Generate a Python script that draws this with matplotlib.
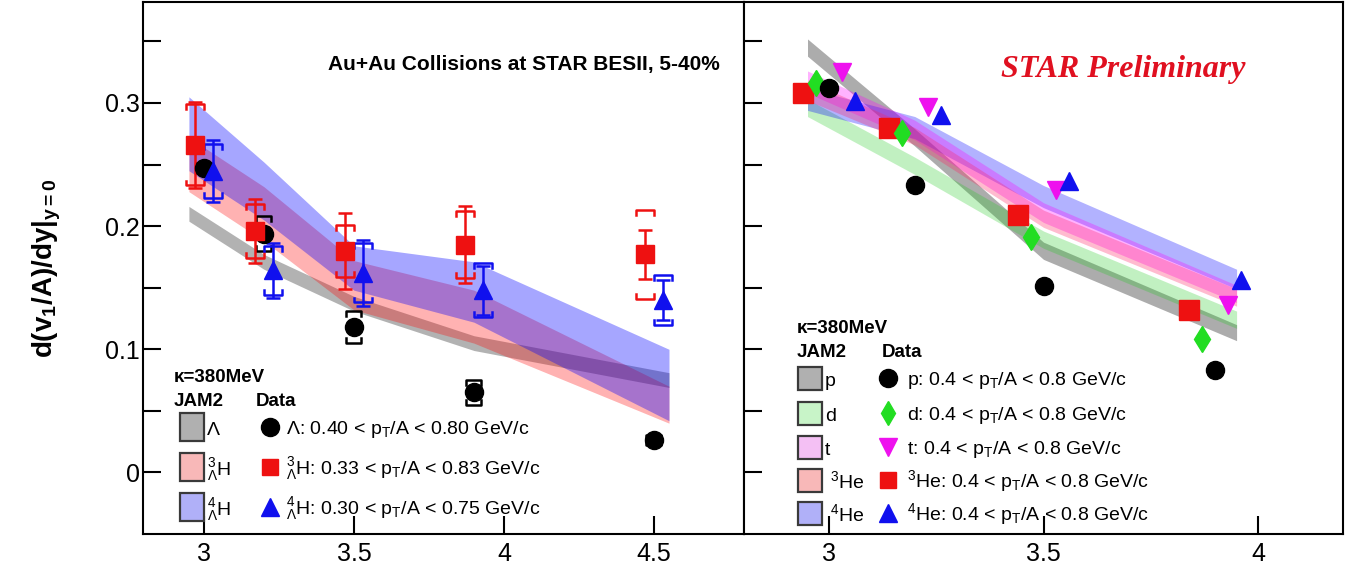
import numpy as np
import matplotlib.pyplot as plt
from matplotlib.patches import Rectangle

plt.rcParams['font.family'] = ['Liberation Sans', 'DejaVu Sans']
plt.rcParams['mathtext.fontset'] = 'custom'
plt.rcParams['mathtext.rm'] = 'Liberation Sans'
plt.rcParams['mathtext.it'] = 'Liberation Sans:italic'
plt.rcParams['mathtext.bf'] = 'Liberation Sans:bold'

W, H = 1358, 570

# ——— left panel: Lambda and hypernuclei ———
snn_l = [3.0, 3.2, 3.5, 3.9, 4.5]

lam_y    = [0.247, 0.194, 0.118, 0.065, 0.026]
lam_stat = [0.003, 0.004, 0.004, 0.004, 0.002]
lam_sys  = [0.004, 0.014, 0.013, 0.010, 0.004]

h3_y    = [0.266, 0.196, 0.180, 0.185, 0.177]
h3_stat = [0.035, 0.026, 0.031, 0.031, 0.020]
h3_sys  = [0.033, 0.022, 0.021, 0.027, 0.036]

h4_y    = [0.245, 0.164, 0.162, 0.148, 0.140]
h4_stat = [0.025, 0.022, 0.027, 0.020, 0.016]
h4_sys  = [0.022, 0.020, 0.024, 0.022, 0.020]

# JAM2 bands (kappa = 380 MeV)
jam_x_l    = [2.95, 3.2, 3.5, 3.9, 4.55]
jam_lam_lo = [0.204, 0.165, 0.131, 0.099, 0.069]
jam_lam_hi = [0.216, 0.177, 0.143, 0.111, 0.081]
jam_h3_lo  = [0.228, 0.188, 0.132, 0.105, 0.040]
jam_h3_hi  = [0.272, 0.232, 0.172, 0.148, 0.070]
jam_h4_lo  = [0.245, 0.205, 0.148, 0.122, 0.042]
jam_h4_hi  = [0.305, 0.252, 0.184, 0.171, 0.100]

# ——— right panel: light nuclei ———
snn_r = [3.0, 3.2, 3.5, 3.9]
p_y   = [0.312, 0.233, 0.151, 0.083]
d_y   = [0.316, 0.276, 0.191, 0.108]
t_y   = [0.325, 0.297, 0.229, 0.136]
he3_y = [0.308, 0.280, 0.209, 0.132]
he4_y = [0.302, 0.290, 0.237, 0.156]

jam_x_r    = [2.95, 3.2, 3.5, 3.95]
jam_p_lo   = [0.338, 0.265, 0.173, 0.107]
jam_p_hi   = [0.352, 0.279, 0.187, 0.120]
jam_d_lo   = [0.289, 0.242, 0.182, 0.117]
jam_d_hi   = [0.303, 0.256, 0.196, 0.131]
jam_t_lo   = [0.308, 0.270, 0.203, 0.138]
jam_t_hi   = [0.326, 0.286, 0.219, 0.152]
jam_he3_lo = [0.302, 0.266, 0.199, 0.135]
jam_he3_hi = [0.318, 0.280, 0.213, 0.149]
jam_he4_lo = [0.294, 0.271, 0.215, 0.149]
jam_he4_hi = [0.312, 0.289, 0.233, 0.165]

RED, BLUE, GREEN, MAG = '#ee1111', '#1010ee', '#22dd22', '#ee11ee'


def shift(xs, dx):
    return [x + dx for x in xs]


def brackets(ax, xs, ys, errs, color, half=0.03, tip=0.004):
    # systematic uncertainty drawn as ROOT-style brackets
    for x, y, e in zip(xs, ys, errs):
        hi, lo = y + e, y - e
        ax.plot([x - half, x - half, x + half, x + half], [hi - tip, hi, hi, hi - tip],
                color=color, lw=1.8, zorder=4)
        ax.plot([x - half, x - half, x + half, x + half], [lo + tip, lo, lo, lo + tip],
                color=color, lw=1.8, zorder=4)


def fig_xy(px, py):
    return px / W, 1 - py / H


fig = plt.figure(figsize=(W / 100, H / 100), dpi=100)
axl = fig.add_axes([142.7 / W, 36 / H, 601.3 / W, 532 / H])
axr = fig.add_axes([744 / W, 36 / H, 599 / W, 532 / H])

# ---- left panel ----
axl.fill_between(jam_x_l, jam_lam_lo, jam_lam_hi, color='#808080', alpha=0.6, lw=0, zorder=1)
axl.fill_between(jam_x_l, jam_h3_lo, jam_h3_hi, color='#ff0000', alpha=0.3, lw=0, zorder=1)
axl.fill_between(jam_x_l, jam_h4_lo, jam_h4_hi, color='#0000ff', alpha=0.35, lw=0, zorder=1)

x_h3 = shift(snn_l, -0.03)
x_h4 = shift(snn_l, 0.03)
axl.errorbar(snn_l, lam_y, yerr=lam_stat, fmt='o', color='black', ms=13, lw=1.8,
             capsize=4, capthick=1.8, zorder=5)
brackets(axl, snn_l, lam_y, lam_sys, 'black', half=0.025)
axl.errorbar(x_h3, h3_y, yerr=h3_stat, fmt='s', color=RED, ms=13, lw=1.8,
             capsize=5, capthick=1.8, zorder=5)
brackets(axl, x_h3, h3_y, h3_sys, RED)
axl.errorbar(x_h4, h4_y, yerr=h4_stat, fmt='^', color=BLUE, ms=13, lw=1.8,
             capsize=5, capthick=1.8, zorder=5)
brackets(axl, x_h4, h4_y, h4_sys, BLUE)

axl.set_xlim(2.796, 4.8)
axl.set_xticks([3, 3.5, 4, 4.5])
axl.set_xticklabels(['3', '3.5', '4', '4.5'])

# ---- right panel ----
axr.fill_between(jam_x_r, jam_p_lo, jam_p_hi, color='#808080', alpha=0.65, lw=0, zorder=1)
axr.fill_between(jam_x_r, jam_d_lo, jam_d_hi, color='#22cc22', alpha=0.28, lw=0, zorder=1)
axr.fill_between(jam_x_r, jam_he4_lo, jam_he4_hi, color='#0000ff', alpha=0.3, lw=0, zorder=1)
axr.fill_between(jam_x_r, jam_t_lo, jam_t_hi, color='#ff00ff', alpha=0.3, lw=0, zorder=1)
axr.fill_between(jam_x_r, jam_he3_lo, jam_he3_hi, color='#ff2060', alpha=0.3, lw=0, zorder=1)

axr.plot(shift(snn_r, -0.06), he3_y, 's', color=RED, ms=14, zorder=5)
axr.plot(shift(snn_r, -0.03), d_y, 'd', color=GREEN, ms=13, zorder=5)
axr.plot(snn_r, p_y, 'o', color='black', ms=13, zorder=5)
axr.plot(shift(snn_r, 0.03), t_y, 'v', color=MAG, ms=13, zorder=5)
axr.plot(shift(snn_r, 0.06), he4_y, '^', color=BLUE, ms=13, zorder=5)

axr.set_xlim(2.802, 4.198)
axr.set_xticks([3, 3.5, 4])
axr.set_xticklabels(['3', '3.5', '4'])

for ax in (axl, axr):
    ax.set_ylim(-0.05, 0.382)
    ax.set_yticks(np.arange(0, 0.351, 0.05))
    ax.tick_params(axis='both', direction='in', length=13, width=1.5,
                   top=False, right=False, labelsize=18)
    ax.tick_params(axis='y', pad=2)
    ax.tick_params(axis='x', pad=6)
    for s in ax.spines.values():
        s.set_linewidth(1.5)
axl.set_yticklabels(['0', '', '0.1', '', '0.2', '', '0.3', ''])
axr.set_yticklabels([])

fig.text(*fig_xy(47, 268), r'd(v$_{\mathbf{1}}$/A)/dy|$_{\mathbf{y=0}}$', rotation=90,
         ha='center', va='center', fontsize=20, fontweight='bold')

fig.text(*fig_xy(720, 70), 'Au+Au Collisions at STAR BESII, 5-40%', ha='right', va='baseline',
         fontsize=15, fontweight='bold')
fig.text(*fig_xy(1001, 77), 'STAR Preliminary', ha='left', va='baseline', color='#e01020',
         fontsize=23, fontweight='bold', fontstyle='italic', family='Liberation Serif')


# ---- legends ----
def legend_block(kx, ky, data_x, rows, box_x, box_w, box_h, lab_x, mk_x, txt_x, fs):
    fig.text(*fig_xy(kx, ky), 'κ=380MeV', fontsize=13.5, fontweight='bold', va='baseline')
    fig.text(*fig_xy(kx, ky + 24), 'JAM2', fontsize=13.5, fontweight='bold', va='baseline')
    fig.text(*fig_xy(data_x, ky + 24), 'Data', fontsize=13.5, fontweight='bold', va='baseline')
    for cy, fc, lab, mk, mc, ms, txt in rows:
        bx, by = fig_xy(box_x, cy + box_h / 2)
        fig.add_artist(Rectangle((bx, by), box_w / W, box_h / H, transform=fig.transFigure,
                                 facecolor=fc, edgecolor='#3a3a3a', lw=1.6))
        fig.text(*fig_xy(lab_x, cy + 8), lab, fontsize=fs, va='baseline')
        mx, my = fig_xy(mk_x, cy)
        fig.add_artist(plt.Line2D([mx], [my], marker=mk, color=mc, ms=ms,
                                  transform=fig.transFigure))
        fig.text(*fig_xy(txt_x, cy + 7), txt, fontsize=fs, va='baseline')


pt = r'p$_{\mathregular{T}}$'
legend_block(174, 382, 256, [
    (427, '#b0b0b0', 'Λ', 'o', 'black', 13, 'Λ: 0.40 < ' + pt + '/A < 0.80 GeV/c'),
    (467, '#f8b8b8', r'${}^{3}_{\Lambda}$H', 's', RED, 12,
     r'${}^{3}_{\Lambda}$H: 0.33 < ' + pt + '/A < 0.83 GeV/c'),
    (507, '#b0b0f8', r'${}^{4}_{\Lambda}$H', '^', BLUE, 13,
     r'${}^{4}_{\Lambda}$H: 0.30 < ' + pt + '/A < 0.75 GeV/c'),
], 180, 24, 28, 207, 270, 286, 14)

legend_block(797, 333, 882, [
    (378, '#b0b0b0', 'p', 'o', 'black', 13, 'p: 0.4 < ' + pt + '/A < 0.8 GeV/c'),
    (413, '#c8f4c8', 'd', 'd', GREEN, 12, 'd: 0.4 < ' + pt + '/A < 0.8 GeV/c'),
    (447, '#f4c0f4', 't', 'v', MAG, 13, 't: 0.4 < ' + pt + '/A < 0.8 GeV/c'),
    (480, '#f8b8b8', r' $^{3}$He', 's', RED, 12, r'$^{3}$He: 0.4 < ' + pt + '/A < 0.8 GeV/c'),
    (513, '#b0b0f8', r' $^{4}$He', '^', BLUE, 13, r'$^{4}$He: 0.4 < ' + pt + '/A < 0.8 GeV/c'),
], 798, 24, 23, 825, 888, 907, 14)

fig.savefig('out.png', dpi=100)
